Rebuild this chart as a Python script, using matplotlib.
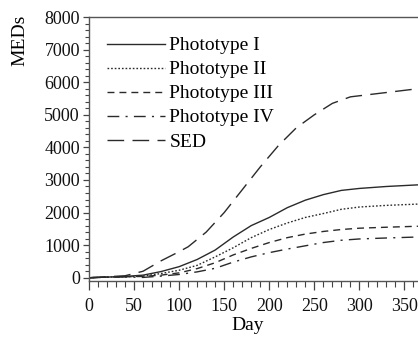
import matplotlib
matplotlib.use("Agg")
import matplotlib.pyplot as plt
from matplotlib.ticker import MultipleLocator

plt.rcParams['font.family'] = ['Liberation Serif', 'DejaVu Serif']
plt.rcParams['lines.scale_dashes'] = False

# cumulative doses by day
days_sed = [0, 20, 40, 60, 80, 100, 110, 130, 150, 170, 190, 210, 230, 250, 270, 290, 320, 365]
sed = [0, 30, 60, 200, 520, 800, 950, 1400, 2000, 2700, 3400, 4050, 4600, 5000, 5350, 5550, 5650, 5800]

days = [0, 20, 40, 60, 80, 100, 120, 140, 160, 180, 200, 220, 240, 260, 280, 300, 330, 365]
type1 = [0, 20, 40, 80, 190, 340, 560, 850, 1250, 1600, 1850, 2150, 2380, 2550, 2680, 2740, 2800, 2850]
type2 = [0, 20, 30, 50, 130, 230, 380, 640, 920, 1230, 1480, 1680, 1850, 1970, 2100, 2170, 2220, 2260]
type3 = [0, 20, 30, 40, 80, 150, 280, 460, 700, 900, 1080, 1230, 1340, 1420, 1480, 1520, 1550, 1580]
type4 = [0, 15, 25, 10, 50, 100, 180, 290, 480, 640, 770, 880, 980, 1080, 1150, 1190, 1220, 1250]

fig = plt.figure(figsize=(4.18, 3.37), dpi=100)
ax = fig.add_axes([89 / 418, 1 - 281 / 337, 1 - 89 / 418, 264 / 337])

c = '#2a2a2a'
lw = 1.0
ax.plot(days, type1, color=c, lw=lw, label='Phototype I')
ax.plot(days, type2, color=c, lw=lw, dashes=(1.2, 1.4), label='Phototype II')
ax.plot(days, type3, color=c, lw=lw, dashes=(5, 3.6), label='Phototype III')
ax.plot(days, type4, color=c, lw=lw, dashes=(8.5, 4.5, 1.5, 4.5), label='Phototype IV')
ax.plot(days_sed, sed, color=c, lw=lw, dashes=(12, 6), label='SED')

ax.set_xlim(0, 365)
ax.set_ylim(-100, 8000)
ax.xaxis.set_major_locator(MultipleLocator(50))
ax.xaxis.set_minor_locator(MultipleLocator(10))
ax.yaxis.set_major_locator(MultipleLocator(1000))
ax.yaxis.set_minor_locator(MultipleLocator(200))
ax.tick_params(which='both', colors='#444444', labelsize=13, labelcolor='#111111')
ax.tick_params(axis='x', which='major', length=6.5, width=0.9, pad=6)
ax.tick_params(axis='x', which='minor', length=4, width=0.8)
ax.tick_params(axis='y', which='major', length=4.5, width=0.9, pad=2)
ax.tick_params(axis='y', which='minor', length=3, width=0.8)

for s in ['left', 'bottom', 'top']:
    ax.spines[s].set_color('#555555')
    ax.spines[s].set_linewidth(1.0)
ax.spines['right'].set_visible(False)

ax.set_xlabel('Day', fontsize=14)
ax.xaxis.set_label_coords(0.483, -0.135)
ax.set_ylabel('MEDs', fontsize=14)
ax.yaxis.set_label_coords(-0.185, 0.913)

ax.legend(loc='upper left', frameon=False, fontsize=14, handlelength=3.0,
          handletextpad=0.2, labelspacing=0.33, borderaxespad=0, borderpad=0,
          bbox_to_anchor=(0.055, 0.925))

fig.savefig('out.png', dpi=100)
